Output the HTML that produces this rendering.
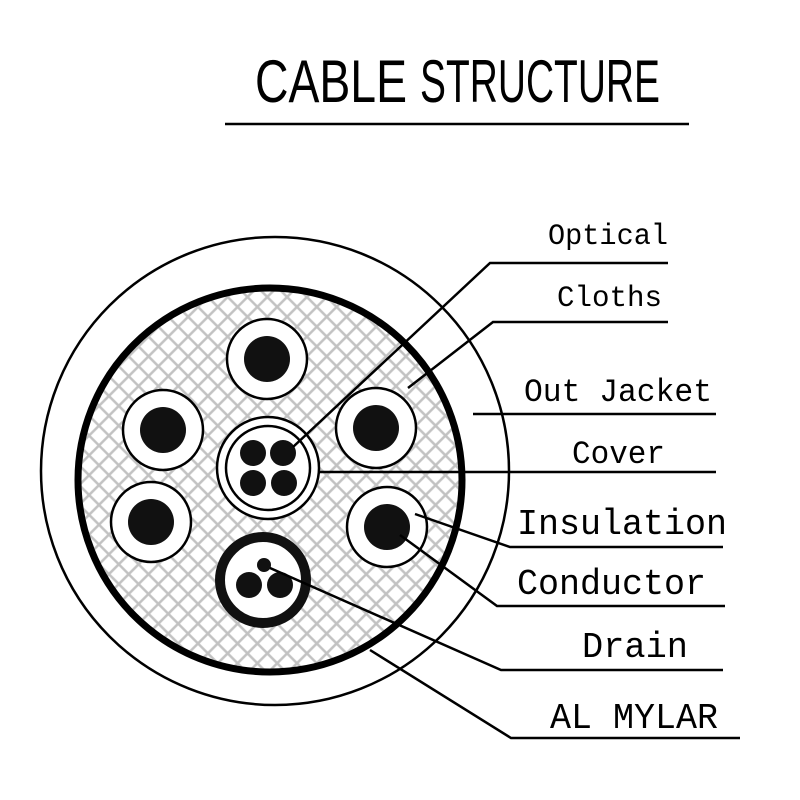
<!DOCTYPE html>
<html><head><meta charset="utf-8"><style>html,body{margin:0;padding:0;background:#fff}svg{display:block}</style></head>
<body>
<svg width="800" height="800" viewBox="0 0 800 800" xmlns="http://www.w3.org/2000/svg">
<defs>
<pattern id="h" width="14" height="14" patternUnits="userSpaceOnUse" patternTransform="rotate(45)">
<rect width="14" height="14" fill="#fff"/>
<line x1="0" y1="7" x2="14" y2="7" stroke="#c2c2c2" stroke-width="2.5"/>
<line x1="7" y1="0" x2="7" y2="14" stroke="#c2c2c2" stroke-width="2.5"/>
</pattern>
</defs>
<text x="255" y="102" font-family="Liberation Sans, sans-serif" font-size="60" textLength="152" lengthAdjust="spacingAndGlyphs">CABLE</text>
<text x="420" y="102" font-family="Liberation Sans, sans-serif" font-size="60" textLength="240" lengthAdjust="spacingAndGlyphs">STRUCTURE</text>
<line x1="225" y1="124" x2="689" y2="124" stroke="#000" stroke-width="2.5"/>

<circle cx="275" cy="471" r="234" fill="#fff" stroke="#000" stroke-width="2.5"/>
<circle cx="270" cy="480" r="192" fill="url(#h)" stroke="#000" stroke-width="7"/>

<g stroke="#000" stroke-width="2.5" fill="#fff">
<circle cx="267" cy="359" r="40"/>
<circle cx="376" cy="428" r="40"/>
<circle cx="163" cy="430" r="40"/>
<circle cx="151" cy="522" r="40"/>
<circle cx="387" cy="527" r="40"/>
<circle cx="268" cy="468" r="51"/>
<circle cx="268" cy="468" r="42"/>
</g>
<g fill="#111">
<circle cx="267" cy="359" r="23"/>
<circle cx="376" cy="428" r="23"/>
<circle cx="163" cy="430" r="23"/>
<circle cx="151" cy="522" r="23"/>
<circle cx="387" cy="527" r="23"/>
<circle cx="253" cy="453" r="13"/>
<circle cx="283" cy="453" r="13"/>
<circle cx="253" cy="483" r="13"/>
<circle cx="284" cy="483" r="13"/>
</g>
<circle cx="263" cy="580" r="43" fill="#fff" stroke="#111" stroke-width="10"/>
<g fill="#111">
<circle cx="264" cy="565" r="7"/>
<circle cx="249" cy="585" r="13"/>
<circle cx="280" cy="585" r="13"/>
</g>

<g stroke="#000" stroke-width="2.5" fill="none">
<polyline points="293,447 490,263 668,263"/>
<polyline points="408,388 493,322 668,322"/>
<line x1="473" y1="414" x2="716" y2="414"/>
<line x1="318" y1="472" x2="716" y2="472"/>
<polyline points="415,514 510,547 723,547"/>
<polyline points="400,535 497,606 725,606"/>
<polyline points="270,568 501,670 723,670"/>
<polyline points="370,650 511,738 740,738"/>
</g>

<g font-family="Liberation Mono, monospace" fill="#000">
<text x="548" y="244" font-size="30" textLength="120" lengthAdjust="spacingAndGlyphs">Optical</text>
<text x="557" y="306" font-size="30" textLength="105" lengthAdjust="spacingAndGlyphs">Cloths</text>
<text x="524" y="401" font-size="32" textLength="188" lengthAdjust="spacingAndGlyphs">Out Jacket</text>
<text x="572" y="463" font-size="32" textLength="93" lengthAdjust="spacingAndGlyphs">Cover</text>
<text x="517" y="534" font-size="36" textLength="210" lengthAdjust="spacingAndGlyphs">Insulation</text>
<text x="517" y="594" font-size="36" textLength="189" lengthAdjust="spacingAndGlyphs">Conductor</text>
<text x="582" y="657" font-size="36" textLength="106" lengthAdjust="spacingAndGlyphs">Drain</text>
<text x="550" y="728" font-size="36" textLength="168" lengthAdjust="spacingAndGlyphs">AL MYLAR</text>
</g>
</svg>
</body></html>
